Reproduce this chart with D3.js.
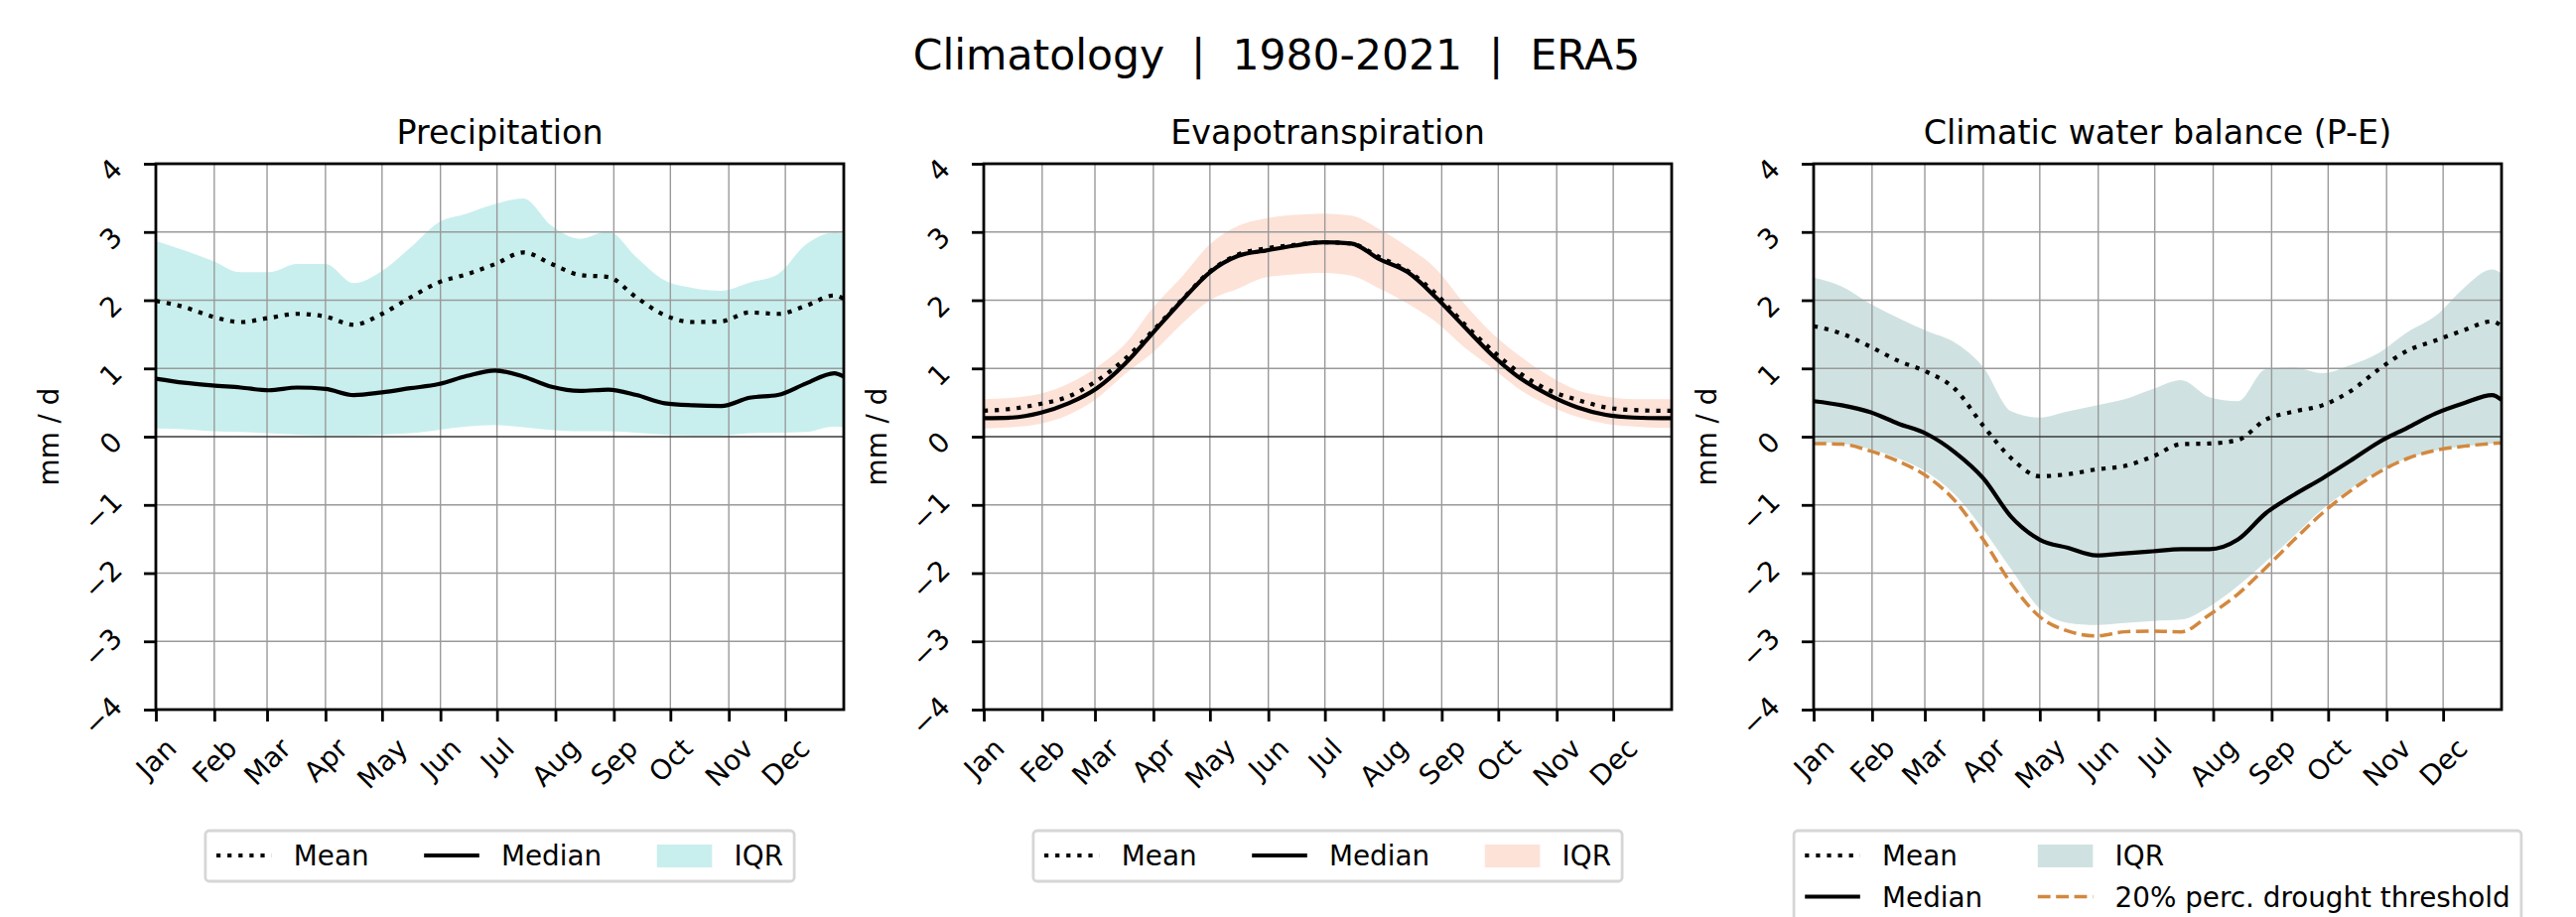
<!DOCTYPE html>
<html>
<head>
<meta charset="utf-8">
<script src="https://cdn.jsdelivr.net/npm/d3@7"></script>
<style>
  html, body { margin: 0; padding: 0; background: #fff; }
  text { font-family: "DejaVu Sans", sans-serif; fill: #000; }
</style>
</head>
<body>
<div id="chart"></div>
<script>
// ---- data (mm/d, every 15 days) ----
var days = [0, 15, 30, 45, 60, 75, 90, 105, 120, 135, 150, 165, 180, 195, 210, 225, 240, 255, 270, 285, 300, 315, 330, 345, 360, 365];
var monthStarts = [0, 31, 59, 90, 120, 151, 181, 212, 243, 273, 304, 334];
var monthLabels = ["Jan", "Feb", "Mar", "Apr", "May", "Jun", "Jul", "Aug", "Sep", "Oct", "Nov", "Dec"];
var yTicks = [-4, -3, -2, -1, 0, 1, 2, 3, 4];

var precipUpper  = [2.87, 2.73, 2.58, 2.41, 2.41, 2.53, 2.53, 2.25, 2.43, 2.77, 3.14, 3.27, 3.41, 3.49, 3.09, 2.90, 3.01, 2.63, 2.29, 2.18, 2.14, 2.26, 2.38, 2.82, 2.99, 2.97];
var precipLower  = [0.12, 0.11, 0.08, 0.07, 0.05, 0.03, 0.02, 0.02, 0.03, 0.05, 0.10, 0.15, 0.17, 0.14, 0.10, 0.08, 0.08, 0.06, 0.03, 0.02, 0.02, 0.05, 0.06, 0.07, 0.15, 0.14];
var precipMean   = [1.99, 1.90, 1.76, 1.68, 1.74, 1.80, 1.76, 1.64, 1.80, 2.04, 2.26, 2.38, 2.53, 2.70, 2.53, 2.37, 2.34, 2.04, 1.78, 1.68, 1.69, 1.82, 1.80, 1.92, 2.07, 2.02];
var precipMedian = [0.85, 0.79, 0.75, 0.72, 0.68, 0.72, 0.70, 0.61, 0.65, 0.71, 0.77, 0.89, 0.97, 0.88, 0.73, 0.67, 0.69, 0.61, 0.49, 0.46, 0.45, 0.57, 0.61, 0.78, 0.93, 0.88];

var evapUpper  = [0.55, 0.57, 0.63, 0.78, 1.02, 1.36, 1.90, 2.34, 2.82, 3.09, 3.20, 3.25, 3.27, 3.24, 3.04, 2.78, 2.46, 1.95, 1.51, 1.17, 0.89, 0.68, 0.59, 0.55, 0.55, 0.55];
var evapLower  = [0.12, 0.14, 0.19, 0.32, 0.56, 0.92, 1.24, 1.65, 2.00, 2.17, 2.34, 2.38, 2.40, 2.36, 2.17, 1.95, 1.68, 1.31, 1.00, 0.68, 0.45, 0.29, 0.19, 0.15, 0.13, 0.13];
var evapMean   = [0.38, 0.41, 0.48, 0.59, 0.82, 1.14, 1.56, 2.00, 2.42, 2.67, 2.76, 2.81, 2.85, 2.83, 2.63, 2.43, 2.09, 1.65, 1.26, 0.92, 0.68, 0.54, 0.43, 0.39, 0.38, 0.38];
var evapMedian = [0.27, 0.28, 0.35, 0.49, 0.71, 1.07, 1.53, 1.99, 2.41, 2.65, 2.73, 2.80, 2.85, 2.83, 2.60, 2.41, 2.04, 1.61, 1.19, 0.85, 0.61, 0.43, 0.32, 0.28, 0.27, 0.27];

var peUpper   = [2.33, 2.20, 1.95, 1.74, 1.55, 1.38, 1.02, 0.37, 0.28, 0.37, 0.46, 0.55, 0.70, 0.83, 0.58, 0.52, 0.99, 1.01, 0.93, 1.05, 1.23, 1.53, 1.77, 2.18, 2.45, 2.39];
var peLower   = [-0.08, -0.10, -0.18, -0.32, -0.52, -0.85, -1.36, -1.95, -2.52, -2.73, -2.76, -2.73, -2.70, -2.68, -2.49, -2.19, -1.83, -1.45, -1.06, -0.76, -0.49, -0.32, -0.20, -0.14, -0.10, -0.09];
var peMean    = [1.62, 1.51, 1.32, 1.11, 0.95, 0.70, 0.16, -0.32, -0.58, -0.55, -0.48, -0.43, -0.29, -0.11, -0.10, -0.05, 0.25, 0.37, 0.46, 0.67, 0.99, 1.26, 1.41, 1.56, 1.69, 1.62];
var peMedian  = [0.52, 0.46, 0.36, 0.19, 0.04, -0.23, -0.61, -1.18, -1.51, -1.63, -1.74, -1.71, -1.68, -1.65, -1.65, -1.51, -1.12, -0.85, -0.61, -0.35, -0.08, 0.13, 0.34, 0.49, 0.61, 0.54];
var peDrought = [-0.10, -0.11, -0.21, -0.36, -0.58, -0.94, -1.51, -2.16, -2.64, -2.85, -2.92, -2.86, -2.85, -2.86, -2.61, -2.31, -1.92, -1.51, -1.12, -0.79, -0.52, -0.32, -0.20, -0.14, -0.10, -0.09];

var titles = ["Precipitation", "Evapotranspiration", "Climatic water balance (P-E)"];

// ---- layout ----
var W = 2595, H = 924;
var plotW = 693, plotTop = 165, plotBottom = 715;
var lefts = [157, 991, 1827];
var fs = 27.8; // 10pt @ 200dpi

var svg = d3.select("#chart").append("svg")
    .attr("width", W)
    .attr("height", H);

svg.append("text")
    .attr("x", 1286)
    .attr("y", 70)
    .attr("text-anchor", "middle")
    .style("font-size", "42.5px")
    .style("white-space", "pre")
    .text("Climatology  |  1980-2021  |  ERA5");

var panels = [
    { upper: precipUpper, lower: precipLower, mean: precipMean, median: precipMedian, fill: "#c8efed",
      legend: [["dot", "Mean"], ["line", "Median"], ["patch", "IQR"]], ncol: 3 },
    { upper: evapUpper, lower: evapLower, mean: evapMean, median: evapMedian, fill: "#fde2d8",
      legend: [["dot", "Mean"], ["line", "Median"], ["patch", "IQR"]], ncol: 3 },
    { upper: peUpper, lower: peLower, mean: peMean, median: peMedian, drought: peDrought, fill: "#cfe2e1",
      legend: [["dot", "Mean"], ["line", "Median"], ["patch", "IQR"], ["dash", "20% perc. drought threshold"]], ncol: 2 }
];

panels.forEach(function(p, k) { drawPanel(p, k); });

function drawPanel(p, k)
{
    var left = lefts[k];
    var x = d3.scaleLinear().domain([0, 365]).range([left, left + plotW]);
    var y = d3.scaleLinear().domain([-4, 4]).range([plotBottom, plotTop]);
    var g = svg.append("g").attr("class", "panel");

    // IQR band
    var area = d3.area()
        .x(function(d, i) { return x(days[i]); })
        .y0(function(d, i) { return y(p.lower[i]); })
        .y1(function(d) { return y(d); })
        .curve(d3.curveMonotoneX);
    g.append("path")
        .datum(p.upper)
        .attr("d", area)
        .style("fill", p.fill);

    // grid
    g.selectAll(".vgrid").data(monthStarts.slice(1)).enter().append("line")
        .attr("x1", function(d) { return x(d); }).attr("x2", function(d) { return x(d); })
        .attr("y1", plotTop).attr("y2", plotBottom)
        .style("stroke", "#9a9a9a").style("stroke-width", 1.4);
    g.selectAll(".hgrid").data(yTicks.filter(function(d) { return d > -4 && d < 4 && d !== 0; })).enter().append("line")
        .attr("x1", left).attr("x2", left + plotW)
        .attr("y1", function(d) { return y(d); }).attr("y2", function(d) { return y(d); })
        .style("stroke", "#9a9a9a").style("stroke-width", 1.4);
    // zero line
    g.append("line")
        .attr("x1", left).attr("x2", left + plotW)
        .attr("y1", y(0)).attr("y2", y(0))
        .style("stroke", "#3a3a3a").style("stroke-width", 1.4);

    var line = d3.line()
        .x(function(d, i) { return x(days[i]); })
        .y(function(d) { return y(d); })
        .curve(d3.curveMonotoneX);

    if (p.drought) {
        g.append("path").datum(p.drought).attr("d", line)
            .style("fill", "none").style("stroke", "#d2883f")
            .style("stroke-width", 3.5).style("stroke-dasharray", "12.8,5.6");
    }
    g.append("path").datum(p.mean).attr("d", line)
        .style("fill", "none").style("stroke", "#000")
        .style("stroke-width", 4.2).style("stroke-dasharray", "4.2,6.9");
    g.append("path").datum(p.median).attr("d", line)
        .style("fill", "none").style("stroke", "#000")
        .style("stroke-width", 4.2).style("stroke-linejoin", "round");

    // spines
    g.append("rect")
        .attr("x", left).attr("y", plotTop)
        .attr("width", plotW).attr("height", plotBottom - plotTop)
        .style("fill", "none").style("stroke", "#000").style("stroke-width", 2.8);

    // x axis
    var xAxis = g.append("g")
        .attr("transform", "translate(0," + plotBottom + ")")
        .call(d3.axisBottom(x).tickValues(monthStarts)
            .tickFormat(function(d, i) { return monthLabels[i]; })
            .tickSize(12).tickSizeOuter(0));
    xAxis.select(".domain").remove();
    xAxis.selectAll(".tick line").style("stroke", "#000").style("stroke-width", 2.8);
    xAxis.selectAll(".tick text")
        .style("font-size", fs + "px")
        .style("font-family", "DejaVu Sans")
        .attr("dy", null).attr("x", 0).attr("y", 0)
        .attr("text-anchor", "middle")
        .attr("dominant-baseline", "central")
        .attr("transform", function() {
            var w = this.getComputedTextLength();
            return "translate(0," + (27 + 0.354 * (w + 20)) + ") rotate(-45)";
        });

    // y axis
    var yAxis = g.append("g")
        .attr("transform", "translate(" + left + ",0)")
        .call(d3.axisLeft(y).tickValues(yTicks)
            .tickFormat(function(d) { return d < 0 ? "\u2212" + Math.abs(d) : String(d); })
            .tickSize(12).tickSizeOuter(0));
    yAxis.select(".domain").remove();
    yAxis.selectAll(".tick line").style("stroke", "#000").style("stroke-width", 2.8);
    yAxis.selectAll(".tick text")
        .style("font-size", fs + "px")
        .style("font-family", "DejaVu Sans")
        .attr("dy", null).attr("x", 0).attr("y", 0)
        .attr("text-anchor", "end")
        .attr("dominant-baseline", "central")
        .attr("transform", function() {
            var w = this.getComputedTextLength();
            return "translate(-39," + (6 - 0.354 * w) + ") rotate(-45)";
        });

    // labels
    g.append("text")
        .attr("x", left + plotW / 2).attr("y", 145)
        .attr("text-anchor", "middle")
        .style("font-size", "33.3px")
        .text(titles[k]);
    g.append("text")
        .attr("transform", "translate(" + (left - 98) + "," + ((plotTop + plotBottom) / 2) + ") rotate(-90)")
        .attr("text-anchor", "middle")
        .style("font-size", fs + "px")
        .text("mm / d");

    drawLegend(g, p, left + plotW / 2);
}

function drawLegend(g, p, cx)
{
    var handleLen = 2 * fs, textPad = 0.8 * fs, colSpace = 2 * fs, pad = 0.4 * fs, rowH = 41.5;
    var lg = g.append("g");
    var box = lg.append("rect");
    var nrow = Math.ceil(p.legend.length / p.ncol);

    // measure labels
    var items = p.legend.map(function(e, i) {
        var t = lg.append("text").style("font-size", fs + "px").text(e[1]);
        return { type: e[0], node: t, w: t.node().getComputedTextLength(),
                 col: Math.floor(i / nrow), row: i % nrow };
    });
    var colW = [];
    items.forEach(function(it) { colW[it.col] = Math.max(colW[it.col] || 0, handleLen + textPad + it.w); });
    var totalW = d3.sum(colW) + colSpace * (colW.length - 1) + 2 * pad;
    var x0 = cx - totalW / 2, y0 = 837;
    var colX = [];
    var acc = x0 + pad;
    colW.forEach(function(w, c) { colX[c] = acc; acc += w + colSpace; });

    box.attr("x", x0).attr("y", y0).attr("width", totalW).attr("height", 51 + rowH * (nrow - 1))
        .attr("rx", 4)
        .style("fill", "#fff").style("stroke", "#d6d6d6").style("stroke-width", 2.8);

    items.forEach(function(it) {
        var hx = colX[it.col], cy = y0 + 25 + it.row * rowH;
        if (it.type === "patch") {
            lg.append("rect").attr("x", hx).attr("y", cy - 11).attr("width", handleLen).attr("height", 23)
                .style("fill", p.fill);
        } else {
            var s = lg.append("line").attr("x1", hx).attr("x2", hx + handleLen).attr("y1", cy).attr("y2", cy)
                .style("stroke", it.type === "dash" ? "#d2883f" : "#000");
            if (it.type === "dot") s.style("stroke-width", 4.2).style("stroke-dasharray", "4.2,6.9");
            if (it.type === "line") s.style("stroke-width", 4.2);
            if (it.type === "dash") s.style("stroke-width", 3.5).style("stroke-dasharray", "12.8,5.6");
        }
        it.node.attr("x", hx + handleLen + textPad).attr("y", cy + 10);
        it.node.raise();
    });
}
</script>
</body>
</html>
